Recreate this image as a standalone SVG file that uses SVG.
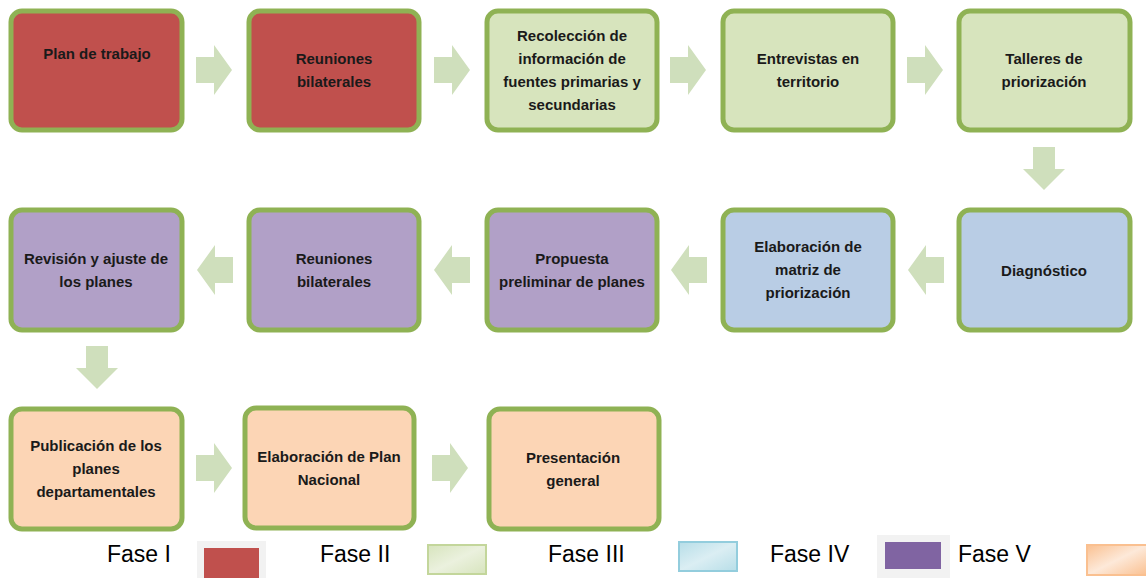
<svg xmlns="http://www.w3.org/2000/svg" width="1146" height="578" viewBox="0 0 1146 578">
<defs>
<style>
.box{stroke:#8fb254;stroke-width:5}
.red{fill:#c0504d}
.grn{fill:#d7e4bd}
.blu{fill:#b9cde5}
.pur{fill:#b1a0c7}
.org{fill:#fcd5b5}
.t{font-family:"Liberation Sans",Arial,sans-serif;font-weight:bold;font-size:15px;fill:#1a1a1a;text-anchor:middle}
.lg{font-family:"Liberation Sans",Arial,sans-serif;font-size:23px;fill:#000}
.arr{fill:#cfdfbc}
</style>
<path id="ar" d="M0,-13 H18 V-25 L36,0 L18,25 V13 H0 Z"/>
<path id="ad" d="M-11,0 V22 H-21 L0,43 L21,22 H11 V0 Z"/>
<linearGradient id="gG" x1="0" y1="0" x2="1" y2="1"><stop offset="0" stop-color="#d7e4bd"/><stop offset="0.5" stop-color="#ebf1de"/><stop offset="1" stop-color="#d7e4bd"/></linearGradient>
<linearGradient id="gB" x1="0" y1="0" x2="1" y2="1"><stop offset="0" stop-color="#b7dee8"/><stop offset="0.5" stop-color="#dbeef3"/><stop offset="1" stop-color="#b7dee8"/></linearGradient>
<linearGradient id="gO" x1="0" y1="0" x2="1" y2="1"><stop offset="0" stop-color="#fac090"/><stop offset="0.5" stop-color="#fde9d9"/><stop offset="1" stop-color="#fac090"/></linearGradient>
</defs>
<rect width="1146" height="578" fill="#fff"/>

<g id="connectors" class="arr">
<use href="#ar" x="196" y="70"/>
<use href="#ar" x="434" y="70"/>
<use href="#ar" x="670" y="70"/>
<use href="#ar" x="907" y="70"/>
<use href="#ad" x="1044" y="147"/>
<use href="#ar" transform="translate(944,270) scale(-1,1)"/>
<use href="#ar" transform="translate(707,270) scale(-1,1)"/>
<use href="#ar" transform="translate(470,270) scale(-1,1)"/>
<use href="#ar" transform="translate(233,270) scale(-1,1)"/>
<use href="#ad" x="97" y="346"/>
<use href="#ar" x="196" y="468"/>
<use href="#ar" x="432" y="468"/>
</g>

<g id="n1"><rect class="box red" x="11" y="11" width="171" height="119" rx="11"/>
<text class="t" x="97" y="59">Plan de trabajo</text></g>
<g id="n2"><rect class="box red" x="249" y="11" width="170" height="119" rx="11"/>
<text class="t" x="334" y="64">Reuniones</text><text class="t" x="334" y="87">bilaterales</text></g>
<g id="n3"><rect class="box grn" x="487" y="11" width="170" height="119" rx="11"/>
<text class="t" x="572" y="41">Recolección de</text><text class="t" x="572" y="64">información de</text><text class="t" x="572" y="87">fuentes primarias y</text><text class="t" x="572" y="110">secundarias</text></g>
<g id="n4"><rect class="box grn" x="723" y="11" width="170" height="119" rx="11"/>
<text class="t" x="808" y="64">Entrevistas en</text><text class="t" x="808" y="87">territorio</text></g>
<g id="n5"><rect class="box grn" x="959" y="11" width="171" height="119" rx="11"/>
<text class="t" x="1044" y="64">Talleres de</text><text class="t" x="1044" y="87">priorización</text></g>

<g id="n6"><rect class="box blu" x="959" y="210" width="171" height="120" rx="11"/>
<text class="t" x="1044" y="276">Diagnóstico</text></g>
<g id="n7"><rect class="box blu" x="723" y="210" width="170" height="120" rx="11"/>
<text class="t" x="808" y="252">Elaboración de</text><text class="t" x="808" y="275">matriz de</text><text class="t" x="808" y="298">priorización</text></g>
<g id="n8"><rect class="box pur" x="487" y="210" width="170" height="120" rx="11"/>
<text class="t" x="572" y="264">Propuesta</text><text class="t" x="572" y="287">preliminar de planes</text></g>
<g id="n9"><rect class="box pur" x="249" y="210" width="170" height="120" rx="11"/>
<text class="t" x="334" y="264">Reuniones</text><text class="t" x="334" y="287">bilaterales</text></g>
<g id="n10"><rect class="box pur" x="11" y="210" width="171" height="120" rx="11"/>
<text class="t" x="96" y="264">Revisión y ajuste de</text><text class="t" x="96" y="287">los planes</text></g>

<g id="n11"><rect class="box org" x="11" y="409" width="171" height="120" rx="11"/>
<text class="t" x="96" y="451">Publicación de los</text><text class="t" x="96" y="474">planes</text><text class="t" x="96" y="497">departamentales</text></g>
<g id="n12"><rect class="box org" x="245" y="408" width="169" height="120" rx="11"/>
<text class="t" x="329" y="462">Elaboración de Plan</text><text class="t" x="329" y="485">Nacional</text></g>
<g id="n13"><rect class="box org" x="489" y="409" width="170" height="120" rx="11"/>
<text class="t" x="573" y="463">Presentación</text><text class="t" x="573" y="486">general</text></g>

<g id="legend">
<text class="lg" x="107" y="562">Fase I</text>
<rect x="197" y="541" width="69" height="37" fill="#f2f2f2"/>
<rect x="204" y="548" width="55" height="30" fill="#c0504d"/>
<text class="lg" x="320" y="562">Fase II</text>
<rect x="428" y="545" width="58" height="29" fill="url(#gG)" stroke="#c3d69b" stroke-width="2"/>
<text class="lg" x="548" y="562">Fase III</text>
<rect x="679" y="542" width="58" height="29" fill="url(#gB)" stroke="#93cddd" stroke-width="2"/>
<text class="lg" x="770" y="562">Fase IV</text>
<rect x="877" y="535" width="73" height="43" fill="#f2f2f2"/>
<rect x="885" y="542" width="56" height="27" fill="#8064a2"/>
<text class="lg" x="958" y="562">Fase V</text>
<rect x="1087" y="545" width="60" height="30" fill="url(#gO)" stroke="#fac090" stroke-width="2"/>
</g>
</svg>
